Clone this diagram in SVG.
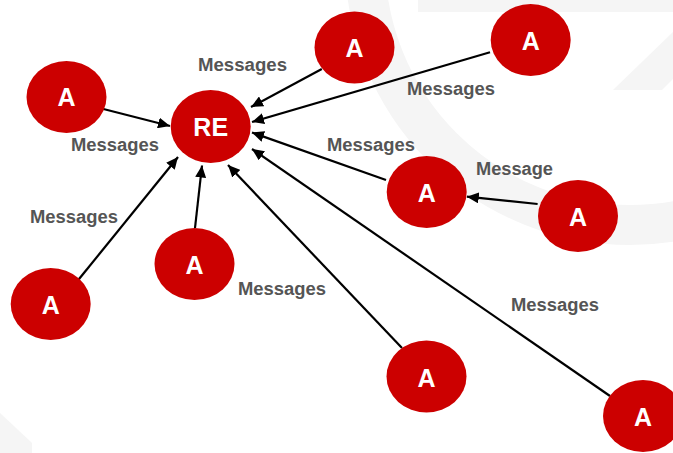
<svg xmlns="http://www.w3.org/2000/svg" width="673" height="453" viewBox="0 0 673 453">
<style>
.node{fill:#cc0000}
.nt{font-family:"Liberation Sans",Arial,sans-serif;font-weight:bold;font-size:25px;fill:#ffffff;text-anchor:middle}
.lbl{font-family:"Liberation Sans",Arial,sans-serif;font-weight:bold;font-size:18px;fill:#555555}
.edge{stroke:#000000;stroke-width:2.2;fill:none;marker-end:url(#arr)}
.bg{fill:#f5f5f5}
</style>
<defs>
<marker id="arr" markerUnits="userSpaceOnUse" markerWidth="13" markerHeight="11" refX="12" refY="5.5" orient="auto">
<path d="M0,0 L12,5.5 L0,11 z" fill="#000000"/>
</marker>
</defs>
<rect width="673" height="453" fill="#ffffff"/>
<g id="background">
<rect class="bg" x="418" y="0" width="255" height="12"/>
<circle cx="630" cy="-40" r="265" fill="none" stroke="#f5f5f5" stroke-width="40"/>
<polygon class="bg" points="613,90 673,32 673,79 662,90"/>
<polygon class="bg" points="0,413 32,443 32,453 0,453"/>
</g>
<g id="connectors">
<line class="edge" x1="99.5" y1="108" x2="170" y2="126"/>
<line class="edge" x1="321.8" y1="69" x2="251" y2="107"/>
<line class="edge" x1="490" y1="52.3" x2="252" y2="122"/>
<line class="edge" x1="386" y1="180" x2="252" y2="132.5"/>
<line class="edge" x1="537.6" y1="204" x2="466.8" y2="196.7"/>
<line class="edge" x1="402" y1="348" x2="228" y2="165"/>
<line class="edge" x1="610" y1="396" x2="252" y2="149"/>
<line class="edge" x1="195" y1="228" x2="202" y2="165.5"/>
<line class="edge" x1="75" y1="284" x2="178" y2="157"/>
</g>
<g id="labels">
<text class="lbl" x="198" y="71" textLength="89" lengthAdjust="spacingAndGlyphs">Messages</text>
<text class="lbl" x="407" y="95" textLength="88" lengthAdjust="spacingAndGlyphs">Messages</text>
<text class="lbl" x="71" y="151" textLength="88" lengthAdjust="spacingAndGlyphs">Messages</text>
<text class="lbl" x="327" y="151" textLength="88" lengthAdjust="spacingAndGlyphs">Messages</text>
<text class="lbl" x="476" y="175" textLength="77" lengthAdjust="spacingAndGlyphs">Message</text>
<text class="lbl" x="30" y="223" textLength="88" lengthAdjust="spacingAndGlyphs">Messages</text>
<text class="lbl" x="238" y="295" textLength="88" lengthAdjust="spacingAndGlyphs">Messages</text>
<text class="lbl" x="511" y="311" textLength="88" lengthAdjust="spacingAndGlyphs">Messages</text>
</g>
<g id="node-RE"><ellipse class="node" cx="210.7" cy="126.5" rx="40" ry="36.5"/><text class="nt" x="210.7" y="136">RE</text></g>
<g id="node-A1"><ellipse class="node" cx="66.5" cy="97" rx="40" ry="36"/><text class="nt" x="66.5" y="106">A</text></g>
<g id="node-A2"><ellipse class="node" cx="354.5" cy="47.5" rx="40" ry="36"/><text class="nt" x="354.5" y="57">A</text></g>
<g id="node-A3"><ellipse class="node" cx="530.7" cy="40" rx="40" ry="36"/><text class="nt" x="530.7" y="50">A</text></g>
<g id="node-A4"><ellipse class="node" cx="426.7" cy="192" rx="40" ry="36"/><text class="nt" x="426.7" y="202">A</text></g>
<g id="node-A5"><ellipse class="node" cx="578" cy="216" rx="40" ry="36"/><text class="nt" x="578" y="226">A</text></g>
<g id="node-A6"><ellipse class="node" cx="50.7" cy="304" rx="40" ry="36"/><text class="nt" x="50.7" y="314">A</text></g>
<g id="node-A7"><ellipse class="node" cx="194.5" cy="264" rx="40" ry="36"/><text class="nt" x="194.5" y="274">A</text></g>
<g id="node-A8"><ellipse class="node" cx="426.5" cy="376.5" rx="40" ry="36"/><text class="nt" x="426.5" y="386.5">A</text></g>
<g id="node-A9"><ellipse class="node" cx="643" cy="416" rx="40" ry="36"/><text class="nt" x="643" y="426">A</text></g>
</svg>
